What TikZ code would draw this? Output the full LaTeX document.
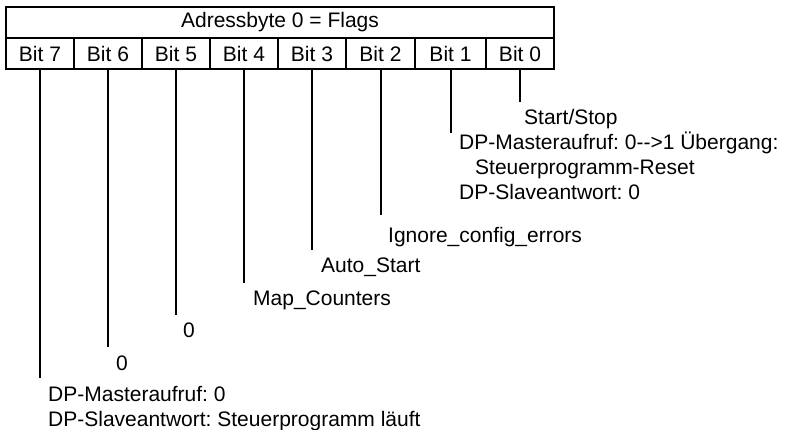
\documentclass[tikz,border=0pt]{standalone}
\usepackage{fontspec}
\setmainfont{Liberation Sans}
\frenchspacing
\begin{document}
\begin{tikzpicture}[x=1pt,y=-1pt,
  cell/.style={draw,line width=2pt,rectangle,inner sep=0pt,minimum height=31pt,font=\fontsize{21}{25}\selectfont},
  lbl/.style={anchor=base west,inner sep=0pt,font=\fontsize{21}{25}\selectfont},
  conn/.style={line width=2pt}]
\useasboundingbox (0,0) rectangle (788,430);
% table
\node[cell,minimum width=548pt] (title) at (280,22.5) {Adressbyte 0 = Flags};
\node[cell,minimum width=68pt] (b7) at (40,53.5) {Bit 7};
\node[cell,minimum width=68pt] (b6) at (108,53.5) {Bit 6};
\node[cell,minimum width=68pt] (b5) at (176,53.5) {Bit 5};
\node[cell,minimum width=68pt] (b4) at (244,53.5) {Bit 4};
\node[cell,minimum width=68pt] (b3) at (312,53.5) {Bit 3};
\node[cell,minimum width=69pt] (b2) at (380.5,53.5) {Bit 2};
\node[cell,minimum width=71pt] (b1) at (450.5,53.5) {Bit 1};
\node[cell,minimum width=68pt] (b0) at (520,53.5) {Bit 0};
% line ends
\coordinate (e7) at (40,378);
\coordinate (e6) at (108,347);
\coordinate (e5) at (176,315);
\coordinate (e4) at (244,283);
\coordinate (e3) at (312,250);
\coordinate (e2) at (381,215);
\coordinate (e1) at (452,133);
\coordinate (e0) at (521,102);
\foreach \i in {0,...,7}{\draw[conn] (b\i.south) -- (b\i.south |- e\i);}
% labels
\node[lbl] (t0) at (524,124.5) {Start/Stop};
\node[lbl] (t1a) at (459,149.5) {DP-Masteraufruf: 0-{}->1 Übergang:};
\node[lbl] (t1b) at (475,174.5) {Steuerprogramm-Reset};
\node[lbl] (t1c) at (459,199.5) {DP-Slaveantwort: 0};
\node[lbl] (t2) at (388,242.5) {Ignore\_config\_errors};
\node[lbl] (t3) at (321,272.5) {Auto\_Start};
\node[lbl] (t4) at (253,305.5) {Map\_Counters};
\node[lbl] (t5) at (183,337.5) {0};
\node[lbl] (t6) at (116,370.5) {0};
\node[lbl] (t7a) at (48,401.5) {DP-Masteraufruf: 0};
\node[lbl] (t7b) at (48,427) {DP-Slaveantwort: Steuerprogramm läuft};
\end{tikzpicture}
\end{document}
